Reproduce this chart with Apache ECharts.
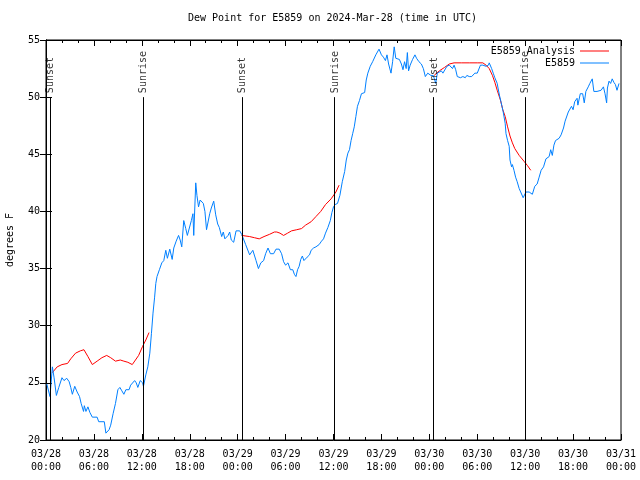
<!DOCTYPE html>
<html>
<head>
<meta charset="utf-8">
<script src="https://cdn.jsdelivr.net/npm/echarts@6/dist/echarts.min.js"></script>
<style>html,body{margin:0;padding:0;background:#fff;}#c{width:640px;height:480px;}</style>
</head>
<body>
<div id="c"></div>
<script>
// Hours since 2024-03-28 00:00 UTC
const obsHours = [0.1,0.5,0.8,1.0,1.3,1.6,2.0,2.25,2.6,2.9,3.1,3.3,3.6,3.9,4.2,4.4,4.7,4.8,5.0,5.25,5.5,5.8,6.4,6.6,7.3,7.5,7.9,8.1,8.4,8.7,9.0,9.25,9.5,9.75,10.0,10.4,10.6,10.8,11.1,11.3,11.5,11.8,12.1,12.2,12.5,12.75,13.0,13.2,13.4,13.6,13.75,13.9,14.2,14.5,14.75,15.0,15.2,15.5,15.8,16.0,16.3,16.6,16.8,17.0,17.25,17.5,17.7,17.9,18.2,18.4,18.5,18.75,18.9,19.1,19.3,19.7,19.9,20.1,20.3,20.5,20.7,21.0,21.25,21.5,21.7,22.0,22.2,22.4,22.6,22.8,23.0,23.2,23.5,23.8,24.25,24.5,25.0,25.5,25.9,26.3,26.6,26.9,27.25,27.5,27.8,28.1,28.5,28.8,29.2,29.5,29.75,30.0,30.3,30.6,30.9,31.1,31.3,31.5,31.7,31.9,32.1,32.3,32.7,33.0,33.2,33.5,33.8,34.2,34.5,34.75,35.0,35.3,35.6,35.8,36.0,36.2,36.5,36.8,37.1,37.4,37.6,37.8,38.0,38.2,38.4,38.6,38.8,39.0,39.25,39.5,39.9,40.1,40.3,40.6,40.9,41.3,41.7,42.0,42.25,42.5,42.7,42.9,43.2,43.4,43.6,43.8,44.25,44.5,44.7,44.9,45.1,45.25,45.4,45.6,45.9,46.2,46.4,46.7,47.0,47.25,47.5,47.8,48.2,48.5,48.8,49.0,49.5,49.7,49.9,50.2,50.5,50.7,50.9,51.1,51.3,51.5,51.9,52.2,52.5,52.7,53.0,53.3,53.5,53.7,54.0,54.4,54.7,54.9,55.1,55.4,55.5,55.7,55.8,56.0,56.2,56.5,56.6,56.8,57.0,57.25,57.5,57.6,57.8,58.0,58.1,58.3,58.4,58.6,58.8,59.0,59.25,59.5,59.75,60.1,60.5,60.9,61.2,61.5,61.75,62.0,62.3,62.6,62.8,63.0,63.2,63.4,63.6,63.8,64.0,64.25,64.5,64.8,65.0,65.2,65.4,65.6,65.8,66.0,66.2,66.5,66.6,66.9,67.2,67.4,67.6,67.9,68.1,68.4,68.6,69.0,69.5,69.8,70.0,70.2,70.3,70.5,70.7,70.9,71.1,71.3,71.5,71.75];
const obsValues = [24.9,23.8,26.4,25.5,23.9,24.6,25.45,25.2,25.4,25.1,24.6,24.0,24.7,24.2,23.8,23.2,22.5,23.0,22.5,22.9,22.4,22.0,22.0,21.6,21.6,20.6,20.9,21.3,22.3,23.2,24.4,24.6,24.3,24.0,24.4,24.4,24.8,24.7,25.2,25.0,24.6,25.2,25.0,24.7,25.7,26.4,27.6,29.3,31.1,32.5,33.7,34.3,34.9,35.5,35.7,36.6,35.9,36.7,35.8,36.8,37.4,37.9,37.5,36.9,39.2,38.5,37.9,37.8,39.2,39.8,37.9,42.5,41.4,40.4,41.0,40.7,40.0,38.4,38.4,39.8,40.3,40.9,39.7,38.9,38.6,37.8,38.2,37.6,37.6,37.9,38.2,37.5,37.3,38.3,38.3,38.0,37.1,36.2,36.6,35.7,35.0,35.5,35.7,36.3,36.8,36.3,36.3,36.7,36.7,36.3,35.6,35.3,35.5,34.9,34.9,34.5,34.3,34.9,35.2,35.8,36.1,35.7,36.0,36.2,36.6,36.8,36.9,37.1,37.4,37.6,38.1,38.6,39.2,39.9,40.4,40.6,40.7,41.4,42.6,43.5,44.5,45.1,45.4,46.2,46.8,47.4,48.3,49.2,49.7,50.3,50.4,51.5,52.1,52.7,53.1,53.7,54.2,53.7,53.5,53.2,53.7,52.9,52.1,53.1,54.4,53.4,53.3,52.9,52.4,53.1,52.5,53.9,52.3,52.8,53.3,53.7,53.4,53.1,52.9,52.5,51.8,52.1,51.9,51.9,51.2,52.1,52.3,52.1,52.2,52.7,52.8,52.7,52.5,52.8,52.4,51.8,51.7,51.8,51.7,51.9,51.8,51.8,51.9,52.1,52.1,52.8,52.8,52.9,52.7,52.8,53.0,53.1,52.5,52.1,51.7,51.2,50.8,50.1,49.5,48.7,47.7,46.8,46.2,45.7,44.5,43.9,44.1,43.6,43.0,42.6,42.0,42.1,41.2,41.7,41.7,41.5,42.2,42.4,43.0,43.6,43.9,44.6,44.5,44.8,45.4,44.9,45.8,46.2,46.1,46.4,46.7,47.3,47.9,48.0,48.7,48.6,49.2,48.9,49.6,49.9,49.3,50.3,50.3,49.5,50.5,50.9,51.2,51.6,50.5,50.5,50.6,50.9,50.3,49.5,50.8,51.4,51.2,51.6,51.3,51.1,50.6,51.2];

const anaHours = [0.8,1.4,2.0,2.7,3.1,3.7,4.3,4.75,5.25,5.8,6.4,7.0,7.6,8.1,8.7,9.3,9.75,10.25,10.8,11.2,11.6,12.1,12.5,12.9,18.0,24.5,25.5,26.1,26.7,27.3,28.0,28.6,28.9,29.3,29.75,30.25,30.75,31.4,32.0,32.5,33.2,33.8,34.4,35.0,35.7,36.3,36.7,42.0,48.6,49.25,49.9,50.5,51.1,52.0,53.0,54.0,54.7,55.1,55.5,55.9,56.2,56.5,56.9,57.2,57.5,57.8,58.1,58.4,58.7,59.25,59.9,60.3,60.7];
const anaValues = [25.9,26.4,26.6,26.7,27.1,27.6,27.8,27.9,27.3,26.6,26.9,27.2,27.4,27.2,26.9,27.0,26.9,26.8,26.6,27.0,27.4,28.2,28.75,29.4,null,37.9,37.8,37.7,37.6,37.8,38.0,38.2,38.2,38.1,37.9,38.1,38.3,38.4,38.5,38.8,39.1,39.55,40.0,40.6,41.1,41.7,42.3,null,51.9,52.3,52.6,52.9,53.0,53.0,53.0,53.0,53.0,52.8,52.5,51.9,51.3,50.6,49.75,48.9,48.3,47.4,46.6,46.0,45.5,44.9,44.35,44.0,43.6];

const sunHours = [0.55, 12.15, 24.55, 36.15, 48.55, 60.0];
const sunLabels = ['Sunset','Sunrise','Sunset','Sunrise','Sunset','Sunrise'];

const xTickLabels = ['03/28\n00:00','03/28\n06:00','03/28\n12:00','03/28\n18:00','03/29\n00:00','03/29\n06:00','03/29\n12:00','03/29\n18:00','03/30\n00:00','03/30\n06:00','03/30\n12:00','03/30\n18:00','03/31\n00:00'];
const yTicks = [20,25,30,35,40,45,50,55];

const titleText = 'Dew Point for E5859 on 2024-Mar-28 (time in UTC)';
const anaName = 'E5859 Analysis';
const obsName = 'E5859';

const FONT = 'DejaVu Sans Mono';
const chart = echarts.init(document.getElementById('c'), null, {renderer: 'canvas'});

const obsData = obsHours.map((h, i) => [h, obsValues[i]]);
const anaData = anaHours.map((h, i) => [h, anaValues[i] == null ? '-' : anaValues[i]]);

const xCommon = {
  type: 'value', min: 0, max: 72, interval: 6,
  axisLine: {show: true, lineStyle: {color: '#000', width: 1}},
  axisTick: {show: true, inside: true, length: 6, lineStyle: {color: '#000'}},
  minorTick: {show: true, splitNumber: 3, length: 3, lineStyle: {color: '#000'}},
  splitLine: {show: false}, minorSplitLine: {show: false}
};
const yCommon = {
  type: 'value', min: yTicks[0], max: yTicks[yTicks.length - 1], interval: 5,
  axisLine: {show: true, lineStyle: {color: '#000', width: 1}},
  axisTick: {show: true, inside: true, length: 6, lineStyle: {color: '#000'}},
  splitLine: {show: false}
};

const legendCommon = {
  orient: 'vertical', align: 'right', icon: 'rect', itemWidth: 29, itemHeight: 1, padding: 0,
  textStyle: {fontFamily: FONT, fontSize: 10, color: '#000'}, selectedMode: false
};

chart.setOption({
  animation: false,
  backgroundColor: '#fff',
  textStyle: {fontFamily: FONT},
  title: {
    text: titleText, left: 188, top: 13, padding: 0,
    textStyle: {fontFamily: FONT, fontSize: 10, fontWeight: 'normal', color: '#000'}
  },
  grid: {left: 46, right: 19, top: 40, bottom: 40, show: true, borderColor: '#000', borderWidth: 1,
         containLabel: false, outerBoundsMode: 'none'},
  legend: [
    Object.assign({data: [anaName], right: 31, top: 46}, legendCommon),
    Object.assign({data: [obsName], right: 31, top: 58}, legendCommon)
  ],
  xAxis: [
    Object.assign({}, xCommon, {
      position: 'bottom',
      axisLabel: {show: true, color: '#000', fontFamily: FONT, fontSize: 10, lineHeight: 13, margin: 8,
        formatter: v => xTickLabels[Math.round(v / 6)]}
    }),
    Object.assign({}, xCommon, {position: 'top', axisLabel: {show: false}})
  ],
  yAxis: [
    Object.assign({}, yCommon, {
      position: 'left',
      name: 'degrees F', nameLocation: 'middle', nameGap: 31, nameRotate: 90,
      nameTextStyle: {fontFamily: FONT, fontSize: 10, color: '#000'},
      axisLabel: {show: true, color: '#000', fontFamily: FONT, fontSize: 10, margin: 6}
    }),
    Object.assign({}, yCommon, {position: 'right', axisLabel: {show: false}})
  ],
  series: [
    {
      name: anaName, type: 'line', data: anaData, symbol: 'none', showSymbol: false,
      connectNulls: false, lineStyle: {color: '#ff0000', width: 1}, itemStyle: {color: '#ff0000'},
      silent: true, z: 3
    },
    {
      name: obsName, type: 'line', data: obsData, symbol: 'none', showSymbol: false,
      lineStyle: {color: '#0080ff', width: 1}, itemStyle: {color: '#0080ff'},
      silent: true, z: 4
    },
    {
      name: 'sun', type: 'line', data: [], symbol: 'none', silent: true, z: 2,
      markLine: {
        silent: true, symbol: ['none', 'none'], animation: false,
        label: {show: false},
        lineStyle: {color: '#000', width: 1, type: 'solid'},
        data: sunHours.map(h => [{coord: [h, 20]}, {coord: [h, 50]}])
      }
    },
    {
      name: 'sunLabels', type: 'scatter', silent: true, z: 5,
      symbolSize: 1, itemStyle: {color: 'rgba(0,0,0,0)'},
      data: sunHours.map((h, i) => ({value: [h, 50], name: sunLabels[i]})),
      label: {show: true, position: 'right', distance: 0, rotate: 90, offset: [4, 0],
        formatter: p => p.name, color: '#000', fontFamily: FONT, fontSize: 10}
    }
  ]
});
</script>
</body>
</html>
